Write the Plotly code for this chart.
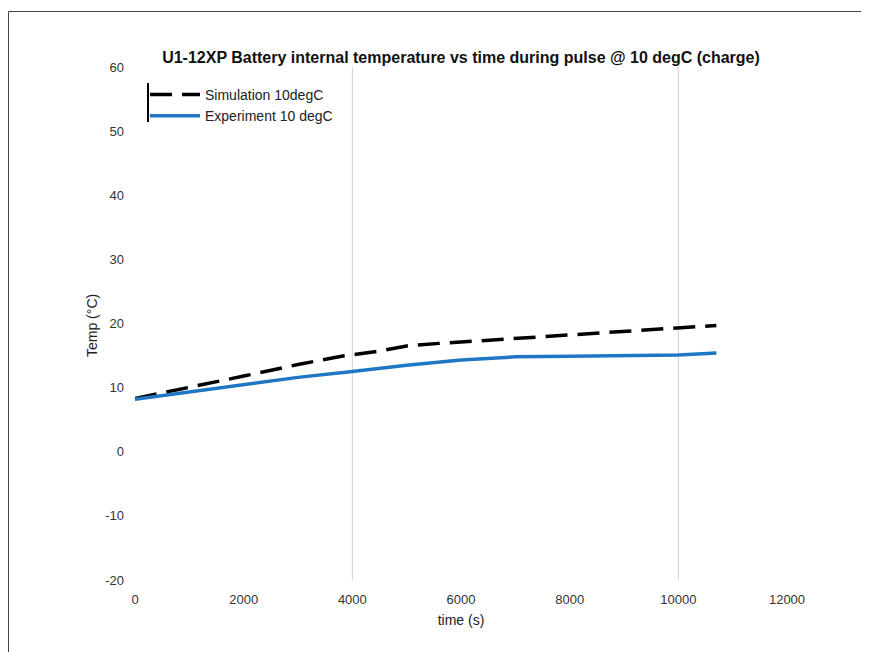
import plotly.graph_objects as go

title = "U1-12XP Battery internal temperature vs time during pulse @ 10 degC (charge)"
sim_name = "Simulation 10degC"
exp_name = "Experiment 10 degC"

sim_t = [0, 1000, 2000, 3000, 3800, 4500, 5000, 5600, 6500, 7500, 8500, 9500, 10000, 10700]
sim_T = [8.3, 10.0, 11.8, 13.6, 14.9, 15.7, 16.5, 16.9, 17.4, 18.0, 18.6, 19.1, 19.3, 19.7]

exp_t = [0, 1000, 2000, 3000, 4000, 5000, 6000, 7000, 8000, 9000, 10000, 10700]
exp_T = [8.2, 9.3, 10.5, 11.6, 12.5, 13.5, 14.3, 14.8, 14.9, 15.0, 15.1, 15.4]

x_ticks = [0, 2000, 4000, 6000, 8000, 10000, 12000]
y_ticks = [-20, -10, 0, 10, 20, 30, 40, 50, 60]
grid_x = [4000, 10000]

FW, FH = 869, 652
W, H = 652, 513
L, T = 127, 59
def px(x): return (x - L) / W
def py(y): return (T + H - y) / H

fig = go.Figure()
fig.add_trace(go.Scatter(x=sim_t, y=sim_T, mode="lines", name=sim_name,
                         line=dict(color="black", width=3.5, dash="22px,10px")))
fig.add_trace(go.Scatter(x=exp_t, y=exp_T, mode="lines", name=exp_name,
                         line=dict(color="#1f77c4", width=3.5)))

shapes = []
for gx in grid_x:
    shapes.append(dict(type="line", xref="x", yref="paper", x0=gx, x1=gx, y0=0, y1=1,
                       line=dict(color="#d0d0d0", width=1), layer="below"))
# figure frame (top and left edges)
shapes.append(dict(type="line", xref="paper", yref="paper", x0=px(0.5), x1=px(FW),
                   y0=py(3.5), y1=py(3.5), line=dict(color="#444444", width=1)))
shapes.append(dict(type="line", xref="paper", yref="paper", x0=px(0.5), x1=px(0.5),
                   y0=py(3.5), y1=py(FH), line=dict(color="#444444", width=1)))
# legend left rule
shapes.append(dict(type="line", xref="paper", yref="paper", x0=px(140), x1=px(140),
                   y0=py(114), y1=py(75), line=dict(color="black", width=2)))

fig.update_layout(
    width=FW, height=FH,
    margin=dict(l=L, r=FW - L - W, t=T, b=FH - T - H),
    paper_bgcolor="white", plot_bgcolor="white",
    font=dict(family="Liberation Sans, Arial, sans-serif", color="#333333", size=13),
    title=dict(text="<b>" + title + "</b>", xref="paper", x=0.5, xanchor="center",
               y=1 - 49 / FH, yanchor="middle", font=dict(size=16, color="#111111")),
    showlegend=True,
    legend=dict(x=px(137), y=py(71), xanchor="left", yanchor="top",
                bgcolor="rgba(255,255,255,0)", font=dict(size=14, color="#222222"),
                tracegroupgap=0, itemwidth=50),
    xaxis=dict(range=[0, 12000], tickvals=x_ticks, ticktext=[str(v) for v in x_ticks],
               showgrid=False, zeroline=False, showline=False, ticks="",
               ticklabelstandoff=10,
               title=dict(text="time (s)", font=dict(size=14, color="#222222"), standoff=9)),
    yaxis=dict(range=[-20, 60], tickvals=y_ticks, ticktext=[str(v) for v in y_ticks],
               showgrid=False, zeroline=False, showline=False, ticks="",
               ticklabelstandoff=10),
    shapes=shapes,
    annotations=[dict(text="Temp (°C)", textangle=-90, xref="paper", yref="paper",
                      x=px(74), y=py(318), showarrow=False,
                      font=dict(size=14, color="#222222"))],
)

fig.write_html("out.html")
